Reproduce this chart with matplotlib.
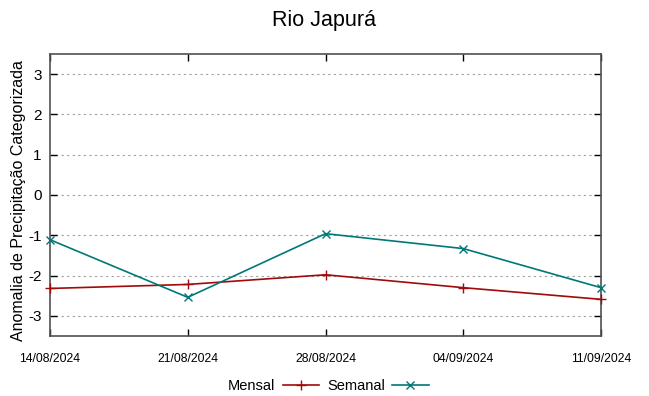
import numpy as np
import matplotlib.pyplot as plt

# Series
datas = ['14/08/2024', '21/08/2024', '28/08/2024', '04/09/2024', '11/09/2024']
mensal = [-2.32, -2.22, -1.98, -2.30, -2.59]
semanal = [-1.11, -2.54, -0.96, -1.33, -2.30]
yticks = [-3, -2, -1, 0, 1, 2, 3]

plt.rcParams['font.family'] = ['Liberation Sans', 'DejaVu Sans']

fig = plt.figure(figsize=(6.49, 3.96), dpi=100)
ax = fig.add_axes([50 / 649, 1 - 336 / 396, 551 / 649, 282 / 396])

x = np.arange(len(datas))
ax.plot(x, mensal, color='#a00a0a', lw=1.2, marker='+', ms=7, mew=1.0,
        label='Mensal', clip_on=False, zorder=3)
ax.plot(x, semanal, color='#007878', lw=1.2, marker='x', ms=6, mew=1.0,
        label='Semanal', clip_on=False, zorder=3)

ax.set_xlim(0, len(datas) - 1)
ax.set_ylim(-3.5, 3.5)
ax.set_xticks(x)
ax.set_xticklabels(datas, fontsize=8.8)
ax.set_yticks(yticks)
ax.set_yticklabels([str(v) for v in yticks], fontsize=11)
ax.tick_params(direction='in', length=5, width=1, top=True, right=True, pad=6)
ax.tick_params(axis='x', pad=12)
ax.grid(axis='y', color='#a0a0a0', linestyle=(0, (2, 3)), lw=0.8)
for s in ax.spines.values():
    s.set_color('#505050')
    s.set_linewidth(1.2)

ax.set_ylabel('Anomalia de Precipitação Categorizada', fontsize=11.5)
ax.yaxis.set_label_coords(-24 / 551, 0.48)
fig.suptitle('Rio Japurá', fontsize=15.5, y=0.975)

ax.legend(loc='upper center', bbox_to_anchor=(0.505, -0.105), ncol=2, frameon=False,
          fontsize=10.5, markerfirst=False, handlelength=2.5, columnspacing=0.55,
          handletextpad=0.5)

fig.savefig('out.png', dpi=100)
